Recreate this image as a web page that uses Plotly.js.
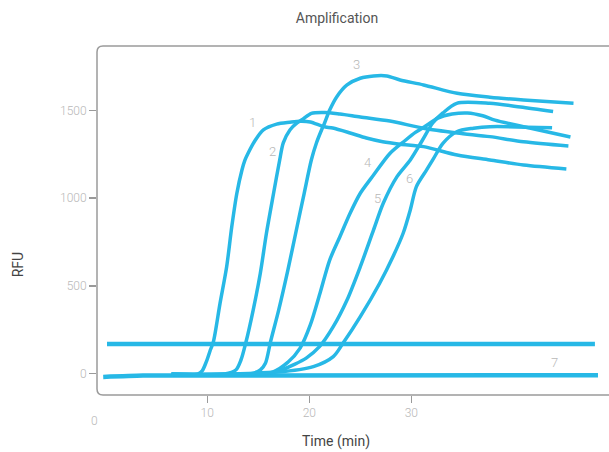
<!DOCTYPE html>
<html>
<head>
<meta charset="utf-8">
<script src="https://cdn.plot.ly/plotly-3.0.1.min.js"></script>
<style>html,body{margin:0;padding:0;background:#fff}#chart{width:609px;height:452px}</style>
</head>
<body>
<div id="chart"></div>
<script>
// ---- data (time in minutes, fluorescence in RFU) ----
var curve1Time = [6.5, 9.1, 9.5, 9.9, 10.3, 10.6, 11.25, 11.9, 12.4, 12.9, 13.4, 13.7, 14.0, 14.7, 15.5, 16.8, 18.1, 19.1, 20.1, 21.4, 22.3, 24.0, 25.6, 27.2, 28.9, 31.2, 34.5, 37.7, 41.0, 45.2];
var curve1RFU  = [-4, -2, 15, 66, 134, 181, 400, 609, 837, 1028, 1161, 1218, 1256, 1330, 1389, 1422, 1433, 1439, 1435, 1408, 1400, 1372, 1343, 1322, 1308, 1294, 1246, 1218, 1189, 1167];

var curve2Time = [6.5, 11.7, 12.8, 13.3, 13.8, 14.5, 15.2, 15.8, 16.5, 17.1, 17.45, 18.1, 18.8, 19.4, 20.2, 21.5, 23.0, 25.0, 27.9, 31.2, 34.5, 37.7, 41.0, 45.4];
var curve2RFU  = [-4, -2, 20, 77, 181, 362, 572, 800, 1028, 1218, 1315, 1389, 1429, 1452, 1484, 1489, 1480, 1463, 1440, 1399, 1372, 1351, 1322, 1298];

var curve3Time = [6.5, 14.2, 15.2, 15.7, 16.2, 17.0, 17.9, 18.8, 19.5, 20.2, 20.7, 21.2, 21.5, 22.0, 22.7, 23.7, 25.0, 26.3, 27.6, 28.9, 31.2, 34.5, 37.7, 41.0, 45.9];
var curve3RFU  = [-4, -2, 20, 58, 181, 362, 590, 837, 1028, 1218, 1315, 1389, 1429, 1503, 1579, 1646, 1684, 1697, 1697, 1674, 1646, 1598, 1576, 1560, 1541];

var curve4Time = [6.5, 16.4, 17.9, 19.1, 20.1, 21.05, 22.0, 23.0, 24.0, 25.0, 26.3, 27.9, 29.4, 30.4, 31.3, 32.6, 34.0, 35.5, 37.0, 38.2, 41.6, 45.6];
var curve4RFU  = [-4, 8, 64, 145, 277, 458, 647, 780, 914, 1028, 1132, 1255, 1329, 1375, 1408, 1457, 1480, 1486, 1470, 1445, 1400, 1349];

var curve5Time = [6.5, 16.6, 18.6, 19.7, 21.0, 22.35, 23.7, 25.0, 26.3, 27.25, 28.6, 29.9, 31.1, 32.1, 33.1, 34.45, 37.7, 40.7, 43.9];
var curve5RFU  = [-4, 8, 54, 88, 153, 267, 419, 609, 819, 971, 1123, 1218, 1332, 1429, 1486, 1541, 1541, 1520, 1494];

var curve6Time = [6.5, 16.9, 20.4, 22.35, 23.3, 25.0, 26.9, 28.2, 29.2, 29.9, 30.5, 31.5, 32.1, 33.1, 34.45, 36.1, 37.7, 43.8];
var curve6RFU  = [-4, 8, 39, 96, 172, 324, 515, 666, 800, 933, 1066, 1161, 1218, 1313, 1379, 1399, 1408, 1402];

var curve7Time = [-0.2, 3.7, 6.5, 48.3];
var curve7RFU  = [-20, -12, -12, -10];

var thresholdTime = [0.17, 48.0];
var thresholdRFU  = [168, 168];

var xTickVals = [10, 20, 30];
var yTickVals = [0, 500, 1000, 1500];
var curveLabels = ['1', '2', '3', '4', '5', '6', '7'];
var labelTime = [14.4, 16.35, 24.67, 25.75, 26.64, 29.87, 43.99];
var labelRFU  = [1429, 1264, 1760, 1201, 1001, 1115, 60];

// ---- styling ----
var BLUE = '#27b8e6';
var FONT = 'Roboto, "Open Sans", sans-serif';

function curve(name, xs, ys, w) {
  return {
    type: 'scatter', mode: 'lines', name: name, x: xs, y: ys,
    line: {color: BLUE, width: w || 3.5, shape: 'spline', smoothing: 0.8},
    hoverinfo: 'skip', showlegend: false
  };
}

var traces = [
  curve('Threshold', thresholdTime, thresholdRFU, 4.5),
  curve('Sample 7', curve7Time, curve7RFU, 4.5),
  curve('Sample 1', curve1Time, curve1RFU),
  curve('Sample 2', curve2Time, curve2RFU),
  curve('Sample 3', curve3Time, curve3RFU),
  curve('Sample 4', curve4Time, curve4RFU),
  curve('Sample 5', curve5Time, curve5RFU),
  curve('Sample 6', curve6Time, curve6RFU)
];

var xRange = [-0.81, 49.38];
var yRange = [-122.6, 1868];

var annotations = curveLabels.map(function (t, i) {
  return {x: labelTime[i], y: labelRFU[i], xref: 'x', yref: 'y', text: t, showarrow: false,
          font: {family: FONT, size: 13, color: '#b8b8b8', weight: 300}};
});
annotations.push({xref: 'paper', yref: 'paper', x: 0.467, y: -0.132, text: 'Time (min)', showarrow: false,
  xanchor: 'center', yanchor: 'middle', font: {family: FONT, size: 14, color: '#444'}});
annotations.push({xref: 'paper', yref: 'paper', x: -0.154, y: 0.372, text: 'RFU', showarrow: false, textangle: -90,
  xanchor: 'center', yanchor: 'middle', font: {family: FONT, size: 14, color: '#444'}});
annotations.push({xref: 'paper', yref: 'paper', x: -0.004, y: -0.0745, text: '0', showarrow: false,
  xanchor: 'center', yanchor: 'middle', font: {family: FONT, size: 12, color: '#b8b8b8', weight: 300}});

var rx = 6 / 512, ry = 6 / 349;
var framePath = 'M 1,1 L ' + rx + ',1 Q 0,1 0,' + (1 - ry) + ' L 0,' + ry + ' Q 0,0 ' + rx + ',0 L 1,0';

var axisCommon = {showgrid: false, zeroline: false, showline: false, tickcolor: '#9a9a9a', tickwidth: 1.5, fixedrange: true};

var layout = {
  width: 609, height: 452,
  margin: {l: 97, r: 0, t: 46, b: 57},
  paper_bgcolor: '#fff', plot_bgcolor: '#fff',
  font: {family: FONT},
  title: {text: 'Amplification', x: 337 / 609, xref: 'container', xanchor: 'center',
          y: 1 - 18 / 452, yref: 'container', yanchor: 'middle',
          font: {family: FONT, size: 14, color: '#555'}},
  xaxis: Object.assign({}, axisCommon, {range: xRange, tickmode: 'array', tickvals: xTickVals,
          ticks: 'outside', ticklen: 7, tickfont: {family: FONT, size: 12, color: '#b8b8b8', weight: 300}}),
  yaxis: Object.assign({}, axisCommon, {range: yRange, tickmode: 'array', tickvals: yTickVals,
          ticks: 'outside', ticklen: 7, tickfont: {family: FONT, size: 12, color: '#b8b8b8', weight: 300}}),
  xaxis2: Object.assign({}, axisCommon, {range: xRange, overlaying: 'x', anchor: 'y', tickmode: 'array',
          tickvals: xTickVals, ticks: 'inside', ticklen: 6, showticklabels: false, side: 'bottom'}),
  yaxis2: Object.assign({}, axisCommon, {range: yRange, overlaying: 'y', anchor: 'x', tickmode: 'array',
          tickvals: yTickVals, ticks: 'inside', ticklen: 6, showticklabels: false, side: 'left'}),
  shapes: [{type: 'path', xref: 'paper', yref: 'paper', path: framePath, layer: 'below',
            line: {color: '#9a9a9a', width: 1.5}}],
  annotations: annotations,
  showlegend: false
};

Plotly.newPlot('chart', traces, layout, {staticPlot: true, displayModeBar: false});
</script>
</body>
</html>
